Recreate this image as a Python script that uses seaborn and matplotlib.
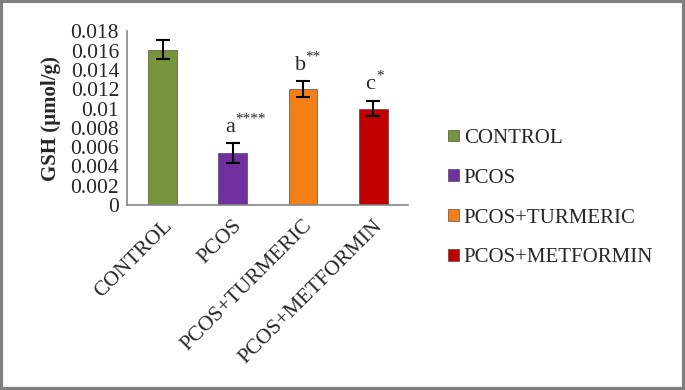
import numpy as np
import pandas as pd
import matplotlib.pyplot as plt
import seaborn as sns
from matplotlib.patches import Rectangle

sns.set_theme(style="white")
plt.rcParams['font.family'] = ['Liberation Serif', 'DejaVu Serif']

groups = ["CONTROL", "PCOS", "PCOS+TURMERIC", "PCOS+METFORMIN"]
gsh = [0.0161, 0.0054, 0.0120, 0.0100]
err = [0.0010, 0.0010, 0.0008, 0.0008]
letters = ["", "a", "b", "c"]
stars = ["", "****", "**", "*"]
colors = ["#77933C", "#7030A0", "#F57F17", "#C00000"]

df = pd.DataFrame({"group": groups, "gsh": gsh})

fig = plt.figure(figsize=(6.85, 3.9), dpi=100)
ax = fig.add_axes([0.186, 0.474, 0.41, 0.446])

sns.barplot(data=df, x="group", y="gsh", hue="group", palette=colors,
            saturation=1, dodge=False, width=0.41, ax=ax, legend=True,
            edgecolor="#333333", linewidth=0.4)
ax.errorbar(range(len(groups)), gsh, yerr=err, fmt="none", ecolor="black",
            elinewidth=1.5, capsize=5, capthick=1.5)

# significance letters with superscript stars
for i in range(len(groups)):
    if not letters[i]:
        continue
    y = gsh[i] + err[i] + 0.0007
    ax.annotate(letters[i], (i, y), xytext=(-2, 0), textcoords="offset points",
                ha="center", va="bottom", fontsize=16)
    ax.annotate(stars[i], (i, y), xytext=(2, 8), textcoords="offset points",
                ha="left", va="bottom", fontsize=11)

ax.set_ylim(0, 0.018)
ax.set_xlim(-0.5, 3.5)
ax.set_yticks(np.arange(0, 0.0181, 0.002))
ax.set_yticklabels(["0", "0.002", "0.004", "0.006", "0.008", "0.01",
                    "0.012", "0.014", "0.016", "0.018"], fontsize=15.5)
ax.set_xticks([-0.5, 0.5, 1.5, 2.5, 3.5], minor=False)
ax.set_xticklabels([])
ax.set_xticks(range(4), minor=True)
ax.set_xticklabels(groups, minor=True, rotation=45, ha="right",
                   rotation_mode="anchor", fontsize=15.5)
ax.tick_params(axis="x", which="minor", length=0, pad=8)
ax.tick_params(axis="x", which="major", length=5, color="#868686", direction="out")
ax.tick_params(axis="y", length=5, color="#868686", direction="out", pad=1)
ax.set_xlabel("")
ax.set_ylabel("GSH (µmol/g)", fontsize=15, fontweight="bold")
ax.yaxis.set_label_coords(-0.235, 0.5)

for s in ["top", "right"]:
    ax.spines[s].set_visible(False)
for s in ["left", "bottom"]:
    ax.spines[s].set_color("#868686")
    ax.spines[s].set_linewidth(1.2)

handles, labels = ax.get_legend_handles_labels()
ax.get_legend().remove()
fig.legend(handles, labels, loc="center left", bbox_to_anchor=(0.627, 0.492),
           frameon=False, fontsize=15, handlelength=0.5, handleheight=0.5,
           handletextpad=0.25, labelspacing=1.0)

fig.patches.append(Rectangle((0.002, 0.003), 0.996, 0.994, transform=fig.transFigure,
                             fill=False, edgecolor="#808080", linewidth=3))

fig.savefig("out.png", dpi=100)
